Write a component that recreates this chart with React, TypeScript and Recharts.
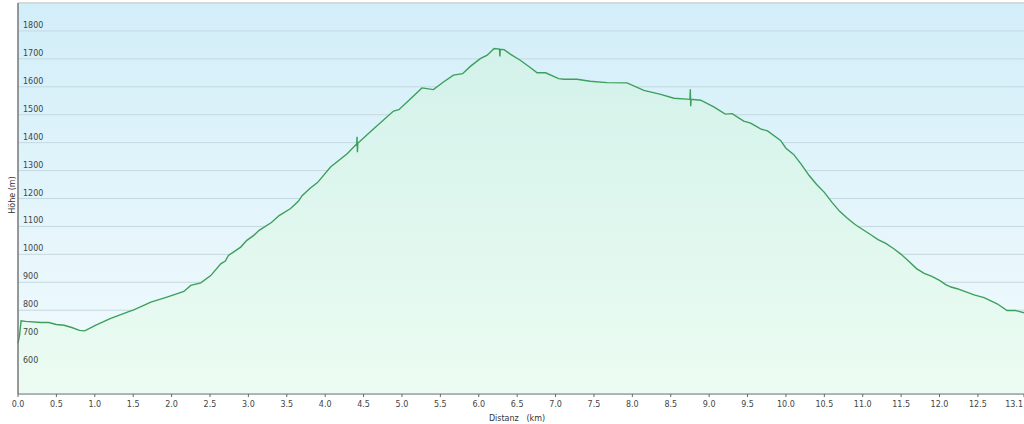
import React from "react";
import {
  AreaChart,
  Area,
  XAxis,
  YAxis,
  CartesianGrid,
  ReferenceLine,
} from "recharts";

// Distanz in km and Höhe in m
const distKm = [
  0, 0.02, 0.04, 0.1, 0.3, 0.4, 0.5, 0.6, 0.7, 0.8, 0.87, 1.0, 1.2, 1.45, 1.5,
  1.73, 1.94, 2.16, 2.25, 2.38, 2.51, 2.64, 2.7, 2.74, 2.9, 2.98, 3.07, 3.14,
  3.3, 3.4, 3.55, 3.65, 3.7, 3.8, 3.9, 4.07, 4.29, 4.41, 4.415, 4.42, 4.425,
  4.61, 4.89, 4.96, 5.15, 5.26, 5.41, 5.54, 5.67, 5.79, 5.89, 6.02, 6.11, 6.2,
  6.27, 6.275, 6.28, 6.33, 6.41, 6.54, 6.67, 6.76, 6.87, 7.04, 7.11, 7.28, 7.45,
  7.67, 7.93, 8.15, 8.37, 8.54, 8.75, 8.755, 8.76, 8.765, 8.89, 9.06, 9.21, 9.3,
  9.45, 9.54, 9.67, 9.76, 9.93, 10.0, 10.1, 10.2, 10.3, 10.4, 10.5, 10.6, 10.7,
  10.8, 10.9, 11.0, 11.1, 11.2, 11.3, 11.4, 11.5, 11.6, 11.7, 11.8, 11.9, 12.0,
  12.08, 12.15, 12.23, 12.45, 12.58, 12.75, 12.88, 12.99, 13.1,
];

const hoehe = [
  682, 710, 762, 760, 756, 756, 749, 746, 738, 728, 726, 745, 770, 796, 800,
  829, 847, 867, 889, 898, 924, 966, 976, 996, 1026, 1050, 1068, 1086,
  1114, 1139, 1164, 1190, 1210, 1236, 1257, 1313, 1361, 1395, 1421, 1366, 1398,
  1444, 1513, 1518, 1567, 1596, 1590, 1617, 1642, 1647, 1673, 1701, 1713, 1737,
  1735, 1709, 1734, 1733, 1717, 1695, 1669, 1650, 1650, 1629, 1627, 1627, 1620,
  1615, 1614, 1587, 1573, 1559, 1555, 1591, 1530, 1555, 1552, 1528, 1502, 1504,
  1477, 1470, 1449, 1442, 1408, 1380, 1358, 1322, 1283, 1250, 1222, 1186, 1154,
  1129, 1107, 1089, 1071, 1053, 1039, 1021, 1000, 975, 949, 932, 921, 907,
  892, 883, 877, 855, 845, 823, 799, 799, 791,
];

const xTicks = [
  0, 0.5, 1, 1.5, 2, 2.5, 3, 3.5, 4, 4.5, 5, 5.5, 6, 6.5, 7, 7.5, 8, 8.5, 9,
  9.5, 10, 10.5, 11, 11.5, 12, 12.5, 13.1,
];
const yTicks = [500, 600, 700, 800, 900, 1000, 1100, 1200, 1300, 1400, 1500, 1600, 1700, 1800, 1900];
const yLabels = [600, 700, 800, 900, 1000, 1100, 1200, 1300, 1400, 1500, 1600, 1700, 1800];

const data = distKm.map((d, i) => ({ km: d, hoehe: hoehe[i] }));

const FONT = "'DejaVu Sans', Verdana, sans-serif";

const XTick = (props: any) => {
  const { x, y, payload } = props;
  const last = payload.value === 13.1;
  return (
    <text
      x={last ? x - 1 : x}
      y={y + 8}
      textAnchor={last ? "end" : "middle"}
      fontFamily={FONT}
      fontSize={8}
      fill="#444"
    >
      {payload.value.toFixed(1)}
    </text>
  );
};

const YTick = (props: any) => {
  const { y, payload } = props;
  if (!yLabels.includes(payload.value)) return null;
  return (
    <text x={23} y={y - 3} fontFamily={FONT} fontSize={8} fill="#444">
      {payload.value}
    </text>
  );
};

export default function App() {
  return (
    <div style={{ position: "absolute", left: 0, top: 0, width: 1024, height: 424, background: "#fff" }}>
      <AreaChart
        width={1024}
        height={424}
        data={data}
        margin={{ top: 3, right: 0, bottom: 0, left: 0 }}
      >
        <defs>
          <linearGradient id="bg" x1="0" y1="0" x2="0" y2="1">
            <stop offset="0%" stopColor="#d2eef9" />
            <stop offset="100%" stopColor="#f3fbfd" />
          </linearGradient>
          <linearGradient id="fillArea" x1="0" y1="0" x2="0" y2="1">
            <stop offset="0%" stopColor="#d3f2ea" />
            <stop offset="100%" stopColor="#ecfcf2" />
          </linearGradient>
        </defs>
        <CartesianGrid
          vertical={false}
          stroke="#c4d9de"
          fill="url(#bg)"
          fillOpacity={1}
        />
        <XAxis
          dataKey="km"
          type="number"
          domain={[0, 13.1]}
          ticks={xTicks}
          interval={0}
          height={30}
          axisLine={{ stroke: "#777", strokeWidth: 1 }}
          tickLine={{ stroke: "#666" }}
          tickSize={3}
          tick={<XTick />}
          label={{
            content: () => (
              <text
                x={517}
                y={421}
                textAnchor="middle"
                fontFamily={FONT}
                fontSize={8}
                fill="#333"
                style={{ whiteSpace: "pre" }}
              >
                {"Distanz   (km)"}
              </text>
            ),
          }}
        />
        <YAxis
          type="number"
          domain={[500, 1900]}
          ticks={yTicks}
          interval={0}
          width={18}
          axisLine={{ stroke: "#777", strokeWidth: 1.5 }}
          tickLine={false}
          tick={<YTick />}
          label={{
            content: () => (
              <text
                x={12}
                y={195}
                transform="rotate(-90 12 195)"
                textAnchor="middle"
                dominantBaseline="central"
                fontFamily={FONT}
                fontSize={8}
                fill="#333"
              >
                Höhe (m)
              </text>
            ),
          }}
        />
        <ReferenceLine y={1900} stroke="#d8d8d8" strokeWidth={2} />
        <Area
          type="linear"
          dataKey="hoehe"
          stroke="#3c9f5b"
          strokeWidth={1.4}
          fill="url(#fillArea)"
          fillOpacity={1}
          baseValue={500}
          dot={false}
          activeDot={false}
          isAnimationActive={false}
        />
      </AreaChart>
    </div>
  );
}
